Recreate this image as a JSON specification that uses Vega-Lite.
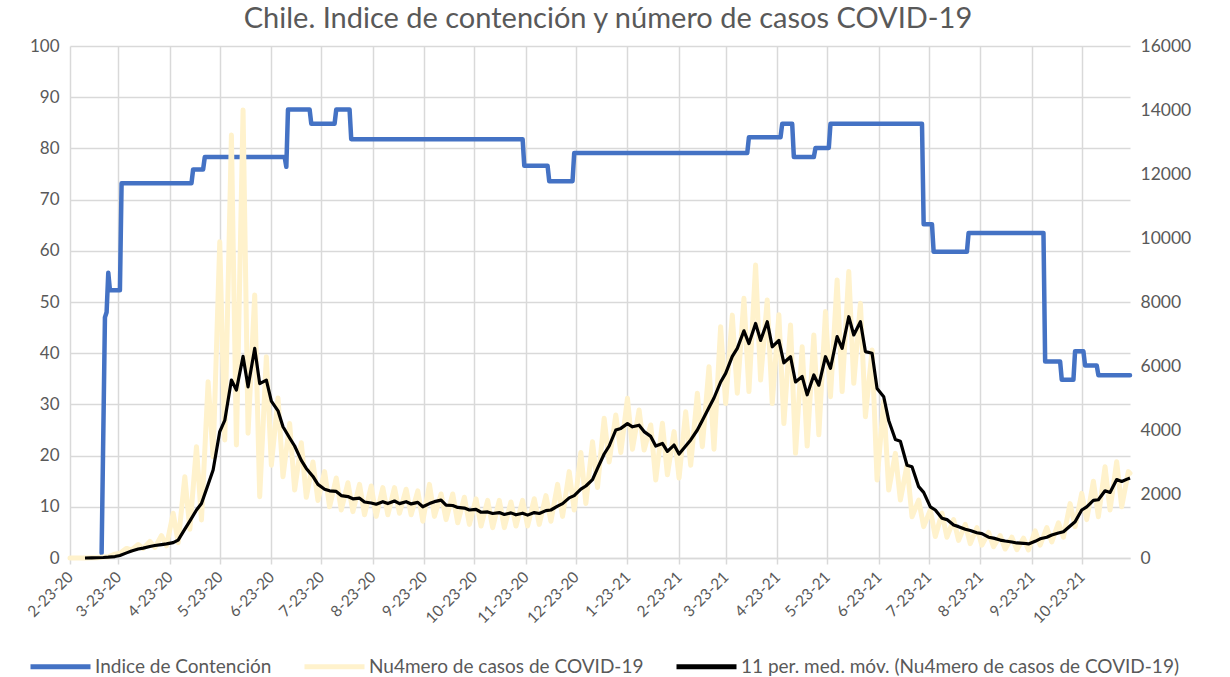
{
  "$schema": "https://vega.github.io/schema/vega-lite/v6.json",
  "width": 1060,
  "height": 512,
  "autosize": {"type": "none"},
  "padding": {"left": 70, "top": 46, "right": 100, "bottom": 119},
  "background": "white",
  "config": {"font": "Lato", "view": {"stroke": null}},
  "title": {"text": "Chile. Indice de contención y número de casos COVID-19", "fontSize": 29, "font": "Lato", "fontWeight": "normal", "color": "#595959", "anchor": "middle", "offset": 3, "dx": 8},
  "datasets": {
    "indice": [
      {"date": "2020-03-13", "indice": 1},
      {"date": "2020-03-15", "indice": 47},
      {"date": "2020-03-16", "indice": 48},
      {"date": "2020-03-17", "indice": 55.7},
      {"date": "2020-03-18", "indice": 52.3},
      {"date": "2020-03-24", "indice": 52.3},
      {"date": "2020-03-25", "indice": 73.2},
      {"date": "2020-05-06", "indice": 73.2},
      {"date": "2020-05-07", "indice": 75.9},
      {"date": "2020-05-13", "indice": 75.9},
      {"date": "2020-05-14", "indice": 78.3},
      {"date": "2020-07-01", "indice": 78.3},
      {"date": "2020-07-02", "indice": 76.4},
      {"date": "2020-07-03", "indice": 87.6},
      {"date": "2020-07-16", "indice": 87.6},
      {"date": "2020-07-17", "indice": 84.8},
      {"date": "2020-07-31", "indice": 84.8},
      {"date": "2020-08-01", "indice": 87.6},
      {"date": "2020-08-09", "indice": 87.6},
      {"date": "2020-08-10", "indice": 81.8},
      {"date": "2020-11-21", "indice": 81.8},
      {"date": "2020-11-22", "indice": 76.6},
      {"date": "2020-12-06", "indice": 76.6},
      {"date": "2020-12-07", "indice": 73.6},
      {"date": "2020-12-21", "indice": 73.6},
      {"date": "2020-12-22", "indice": 79.1},
      {"date": "2021-04-05", "indice": 79.1},
      {"date": "2021-04-06", "indice": 82.2},
      {"date": "2021-04-25", "indice": 82.2},
      {"date": "2021-04-26", "indice": 84.8},
      {"date": "2021-05-02", "indice": 84.8},
      {"date": "2021-05-03", "indice": 78.3},
      {"date": "2021-05-15", "indice": 78.3},
      {"date": "2021-05-16", "indice": 80.1},
      {"date": "2021-05-24", "indice": 80.1},
      {"date": "2021-05-25", "indice": 84.8},
      {"date": "2021-07-19", "indice": 84.8},
      {"date": "2021-07-20", "indice": 65.2},
      {"date": "2021-07-25", "indice": 65.2},
      {"date": "2021-07-26", "indice": 59.8},
      {"date": "2021-08-15", "indice": 59.8},
      {"date": "2021-08-16", "indice": 63.5},
      {"date": "2021-09-30", "indice": 63.5},
      {"date": "2021-10-01", "indice": 38.4},
      {"date": "2021-10-10", "indice": 38.4},
      {"date": "2021-10-11", "indice": 34.8},
      {"date": "2021-10-18", "indice": 34.8},
      {"date": "2021-10-19", "indice": 40.4},
      {"date": "2021-10-24", "indice": 40.4},
      {"date": "2021-10-25", "indice": 37.6},
      {"date": "2021-11-01", "indice": 37.6},
      {"date": "2021-11-02", "indice": 35.7},
      {"date": "2021-11-21", "indice": 35.7}
    ],
    "casos": [
      {"date": "2020-02-23", "casos": 0, "media": null},
      {"date": "2020-02-29", "casos": 0, "media": null},
      {"date": "2020-03-03", "casos": 1, "media": 0},
      {"date": "2020-03-07", "casos": 8, "media": 3},
      {"date": "2020-03-10", "casos": 5, "media": 8},
      {"date": "2020-03-14", "casos": 30, "media": 15},
      {"date": "2020-03-17", "casos": 40, "media": 25},
      {"date": "2020-03-21", "casos": 120, "media": 45},
      {"date": "2020-03-24", "casos": 150, "media": 80},
      {"date": "2020-03-28", "casos": 300, "media": 160},
      {"date": "2020-03-31", "casos": 250, "media": 220},
      {"date": "2020-04-04", "casos": 420, "media": 280},
      {"date": "2020-04-07", "casos": 300, "media": 310},
      {"date": "2020-04-11", "casos": 520, "media": 360},
      {"date": "2020-04-14", "casos": 330, "media": 390},
      {"date": "2020-04-18", "casos": 700, "media": 420},
      {"date": "2020-04-21", "casos": 380, "media": 440},
      {"date": "2020-04-25", "casos": 1400, "media": 480},
      {"date": "2020-04-28", "casos": 480, "media": 560},
      {"date": "2020-05-02", "casos": 2540, "media": 900},
      {"date": "2020-05-05", "casos": 900, "media": 1150},
      {"date": "2020-05-09", "casos": 3480, "media": 1500},
      {"date": "2020-05-12", "casos": 1190, "media": 1700},
      {"date": "2020-05-16", "casos": 5510, "media": 2300},
      {"date": "2020-05-19", "casos": 3165, "media": 2750},
      {"date": "2020-05-23", "casos": 9880, "media": 3950},
      {"date": "2020-05-26", "casos": 3690, "media": 4300},
      {"date": "2020-05-30", "casos": 13220, "media": 5560},
      {"date": "2020-06-02", "casos": 3530, "media": 5250},
      {"date": "2020-06-06", "casos": 14000, "media": 6300},
      {"date": "2020-06-09", "casos": 3900, "media": 5350},
      {"date": "2020-06-13", "casos": 8220, "media": 6550},
      {"date": "2020-06-16", "casos": 1916, "media": 5450},
      {"date": "2020-06-20", "casos": 6290, "media": 5560},
      {"date": "2020-06-23", "casos": 2900, "media": 4900},
      {"date": "2020-06-27", "casos": 5000, "media": 4600},
      {"date": "2020-06-30", "casos": 2540, "media": 4100},
      {"date": "2020-07-04", "casos": 4200, "media": 3750},
      {"date": "2020-07-07", "casos": 2125, "media": 3500},
      {"date": "2020-07-11", "casos": 3600, "media": 3050},
      {"date": "2020-07-14", "casos": 1900, "media": 2800},
      {"date": "2020-07-18", "casos": 3000, "media": 2550},
      {"date": "2020-07-21", "casos": 1800, "media": 2300},
      {"date": "2020-07-25", "casos": 2700, "media": 2150},
      {"date": "2020-07-28", "casos": 1600, "media": 2100},
      {"date": "2020-08-01", "casos": 2500, "media": 2080},
      {"date": "2020-08-04", "casos": 1500, "media": 1950},
      {"date": "2020-08-08", "casos": 2350, "media": 1920},
      {"date": "2020-08-11", "casos": 1450, "media": 1850},
      {"date": "2020-08-15", "casos": 2300, "media": 1870},
      {"date": "2020-08-18", "casos": 1350, "media": 1750},
      {"date": "2020-08-22", "casos": 2250, "media": 1720},
      {"date": "2020-08-25", "casos": 1300, "media": 1680},
      {"date": "2020-08-29", "casos": 2200, "media": 1760},
      {"date": "2020-09-01", "casos": 1350, "media": 1700},
      {"date": "2020-09-05", "casos": 2200, "media": 1780},
      {"date": "2020-09-08", "casos": 1400, "media": 1700},
      {"date": "2020-09-12", "casos": 2150, "media": 1760},
      {"date": "2020-09-15", "casos": 1350, "media": 1690},
      {"date": "2020-09-19", "casos": 2100, "media": 1740},
      {"date": "2020-09-22", "casos": 1150, "media": 1600},
      {"date": "2020-09-26", "casos": 2300, "media": 1700},
      {"date": "2020-09-29", "casos": 1300, "media": 1760},
      {"date": "2020-10-03", "casos": 2000, "media": 1810},
      {"date": "2020-10-06", "casos": 1200, "media": 1650},
      {"date": "2020-10-10", "casos": 2000, "media": 1640},
      {"date": "2020-10-13", "casos": 1100, "media": 1580},
      {"date": "2020-10-17", "casos": 1900, "media": 1560},
      {"date": "2020-10-20", "casos": 1050, "media": 1500},
      {"date": "2020-10-24", "casos": 1850, "media": 1520},
      {"date": "2020-10-27", "casos": 1000, "media": 1430},
      {"date": "2020-10-31", "casos": 1800, "media": 1440},
      {"date": "2020-11-03", "casos": 950, "media": 1390},
      {"date": "2020-11-07", "casos": 1800, "media": 1420},
      {"date": "2020-11-10", "casos": 950, "media": 1360},
      {"date": "2020-11-14", "casos": 1750, "media": 1410},
      {"date": "2020-11-17", "casos": 1000, "media": 1350},
      {"date": "2020-11-21", "casos": 1800, "media": 1400},
      {"date": "2020-11-24", "casos": 1000, "media": 1340},
      {"date": "2020-11-28", "casos": 1850, "media": 1420},
      {"date": "2020-12-01", "casos": 1050, "media": 1390},
      {"date": "2020-12-05", "casos": 1950, "media": 1480},
      {"date": "2020-12-08", "casos": 1150, "media": 1500},
      {"date": "2020-12-12", "casos": 2300, "media": 1620},
      {"date": "2020-12-15", "casos": 1300, "media": 1700},
      {"date": "2020-12-19", "casos": 2700, "media": 1880},
      {"date": "2020-12-22", "casos": 1500, "media": 1950},
      {"date": "2020-12-26", "casos": 3300, "media": 2150},
      {"date": "2020-12-29", "casos": 1700, "media": 2250},
      {"date": "2021-01-02", "casos": 3630, "media": 2450},
      {"date": "2021-01-05", "casos": 2200, "media": 2800},
      {"date": "2021-01-09", "casos": 4365, "media": 3250},
      {"date": "2021-01-12", "casos": 3000, "media": 3500},
      {"date": "2021-01-16", "casos": 4470, "media": 4000},
      {"date": "2021-01-19", "casos": 3300, "media": 4050},
      {"date": "2021-01-23", "casos": 4990, "media": 4200},
      {"date": "2021-01-26", "casos": 3400, "media": 4100},
      {"date": "2021-01-30", "casos": 4625, "media": 4150},
      {"date": "2021-02-02", "casos": 3375, "media": 3950},
      {"date": "2021-02-06", "casos": 4156, "media": 3800},
      {"date": "2021-02-09", "casos": 2437, "media": 3500},
      {"date": "2021-02-13", "casos": 4208, "media": 3580},
      {"date": "2021-02-16", "casos": 2600, "media": 3330},
      {"date": "2021-02-20", "casos": 3950, "media": 3530},
      {"date": "2021-02-23", "casos": 2500, "media": 3250},
      {"date": "2021-02-27", "casos": 4570, "media": 3500},
      {"date": "2021-03-02", "casos": 2900, "media": 3690},
      {"date": "2021-03-06", "casos": 5150, "media": 4000},
      {"date": "2021-03-09", "casos": 3480, "media": 4300},
      {"date": "2021-03-13", "casos": 5980, "media": 4700},
      {"date": "2021-03-16", "casos": 3400, "media": 5000},
      {"date": "2021-03-20", "casos": 7230, "media": 5500},
      {"date": "2021-03-23", "casos": 4830, "media": 5770},
      {"date": "2021-03-27", "casos": 7590, "media": 6300},
      {"date": "2021-03-30", "casos": 5150, "media": 6550},
      {"date": "2021-04-03", "casos": 8115, "media": 7100},
      {"date": "2021-04-06", "casos": 5200, "media": 6700},
      {"date": "2021-04-10", "casos": 9156, "media": 7330},
      {"date": "2021-04-13", "casos": 5560, "media": 6800},
      {"date": "2021-04-17", "casos": 8060, "media": 7385},
      {"date": "2021-04-20", "casos": 4830, "media": 6600},
      {"date": "2021-04-24", "casos": 7600, "media": 6800},
      {"date": "2021-04-27", "casos": 4200, "media": 6100},
      {"date": "2021-05-01", "casos": 7280, "media": 6290},
      {"date": "2021-05-04", "casos": 3270, "media": 5500},
      {"date": "2021-05-08", "casos": 6600, "media": 5670},
      {"date": "2021-05-11", "casos": 3500, "media": 5100},
      {"date": "2021-05-15", "casos": 6970, "media": 5720},
      {"date": "2021-05-18", "casos": 3850, "media": 5400},
      {"date": "2021-05-22", "casos": 7700, "media": 6290},
      {"date": "2021-05-25", "casos": 5040, "media": 5930},
      {"date": "2021-05-29", "casos": 8690, "media": 6920},
      {"date": "2021-06-01", "casos": 5200, "media": 6550},
      {"date": "2021-06-05", "casos": 8950, "media": 7540},
      {"date": "2021-06-08", "casos": 5460, "media": 6970},
      {"date": "2021-06-12", "casos": 7960, "media": 7385},
      {"date": "2021-06-15", "casos": 4415, "media": 6450},
      {"date": "2021-06-19", "casos": 6500, "media": 6400},
      {"date": "2021-06-22", "casos": 2440, "media": 5300},
      {"date": "2021-06-26", "casos": 4900, "media": 5040},
      {"date": "2021-06-29", "casos": 2125, "media": 4300},
      {"date": "2021-07-03", "casos": 3270, "media": 3700},
      {"date": "2021-07-06", "casos": 1810, "media": 3650},
      {"date": "2021-07-10", "casos": 2900, "media": 2900},
      {"date": "2021-07-13", "casos": 1290, "media": 2850},
      {"date": "2021-07-17", "casos": 1810, "media": 2230},
      {"date": "2021-07-20", "casos": 980, "media": 2050},
      {"date": "2021-07-24", "casos": 1500, "media": 1600},
      {"date": "2021-07-27", "casos": 670, "media": 1500},
      {"date": "2021-07-31", "casos": 1400, "media": 1240},
      {"date": "2021-08-03", "casos": 650, "media": 1200},
      {"date": "2021-08-07", "casos": 1200, "media": 1030},
      {"date": "2021-08-10", "casos": 550, "media": 980},
      {"date": "2021-08-14", "casos": 1050, "media": 900},
      {"date": "2021-08-17", "casos": 450, "media": 860},
      {"date": "2021-08-21", "casos": 950, "media": 790},
      {"date": "2021-08-24", "casos": 400, "media": 760},
      {"date": "2021-08-28", "casos": 800, "media": 650},
      {"date": "2021-08-31", "casos": 350, "media": 620},
      {"date": "2021-09-04", "casos": 700, "media": 560},
      {"date": "2021-09-07", "casos": 280, "media": 530},
      {"date": "2021-09-11", "casos": 650, "media": 500},
      {"date": "2021-09-14", "casos": 260, "media": 470},
      {"date": "2021-09-18", "casos": 620, "media": 460},
      {"date": "2021-09-21", "casos": 250, "media": 440},
      {"date": "2021-09-25", "casos": 850, "media": 520},
      {"date": "2021-09-28", "casos": 400, "media": 600},
      {"date": "2021-10-02", "casos": 950, "media": 650},
      {"date": "2021-10-05", "casos": 500, "media": 720},
      {"date": "2021-10-09", "casos": 1100, "media": 780},
      {"date": "2021-10-12", "casos": 650, "media": 820},
      {"date": "2021-10-16", "casos": 1700, "media": 1000},
      {"date": "2021-10-19", "casos": 980, "media": 1130},
      {"date": "2021-10-23", "casos": 2020, "media": 1500},
      {"date": "2021-10-26", "casos": 1200, "media": 1600},
      {"date": "2021-10-30", "casos": 2400, "media": 1800},
      {"date": "2021-11-02", "casos": 1290, "media": 1820},
      {"date": "2021-11-06", "casos": 2850, "media": 2100},
      {"date": "2021-11-09", "casos": 1500, "media": 2050},
      {"date": "2021-11-13", "casos": 3010, "media": 2450},
      {"date": "2021-11-16", "casos": 1600, "media": 2390},
      {"date": "2021-11-20", "casos": 2700, "media": 2480},
      {"date": "2021-11-21", "casos": 2650, "media": 2500}
    ]
  },
  "layer": [
    {
      "data": {"name": "indice"},
      "mark": {"type": "line", "strokeWidth": 4.5, "strokeJoin": "round", "strokeCap": "round"},
      "encoding": {
        "x": {"field": "date", "type": "temporal",
          "scale": {"type": "utc", "domain": [{"year": 2020, "month": 2, "date": 23, "utc": true}, {"year": 2021, "month": 11, "date": 21, "utc": true}]},
          "axis": {"title": null, "labelExpr": "utcFormat(datum.value, '%-m-%-d-%y')", "labelAngle": -45, "labelAlign": "right", "labelBaseline": "middle", "labelPadding": 10, "labelFontSize": 15.5, "labelColor": "#595959", "labelOverlap": false, "labelFlush": false, "tickSize": 6, "tickColor": "#D9D9D9", "tickWidth": 1.5, "domainColor": "#D9D9D9", "domainWidth": 1.5, "grid": true, "gridColor": "#D9D9D9", "gridWidth": 1.5,
            "values": [{"year": 2020, "month": 2, "date": 23, "utc": true}, {"year": 2020, "month": 3, "date": 23, "utc": true}, {"year": 2020, "month": 4, "date": 23, "utc": true}, {"year": 2020, "month": 5, "date": 23, "utc": true}, {"year": 2020, "month": 6, "date": 23, "utc": true}, {"year": 2020, "month": 7, "date": 23, "utc": true}, {"year": 2020, "month": 8, "date": 23, "utc": true}, {"year": 2020, "month": 9, "date": 23, "utc": true}, {"year": 2020, "month": 10, "date": 23, "utc": true}, {"year": 2020, "month": 11, "date": 23, "utc": true}, {"year": 2020, "month": 12, "date": 23, "utc": true}, {"year": 2021, "month": 1, "date": 23, "utc": true}, {"year": 2021, "month": 2, "date": 23, "utc": true}, {"year": 2021, "month": 3, "date": 23, "utc": true}, {"year": 2021, "month": 4, "date": 23, "utc": true}, {"year": 2021, "month": 5, "date": 23, "utc": true}, {"year": 2021, "month": 6, "date": 23, "utc": true}, {"year": 2021, "month": 7, "date": 23, "utc": true}, {"year": 2021, "month": 8, "date": 23, "utc": true}, {"year": 2021, "month": 9, "date": 23, "utc": true}, {"year": 2021, "month": 10, "date": 23, "utc": true}]}},
        "y": {"field": "indice", "type": "quantitative", "scale": {"domain": [0, 100], "nice": false},
          "axis": {"title": null, "orient": "left", "values": [0, 10, 20, 30, 40, 50, 60, 70, 80, 90, 100], "domain": false, "ticks": false, "labelPadding": 11, "labelFontSize": 17, "labelColor": "#595959", "grid": true, "gridColor": "#D9D9D9", "gridWidth": 1.5}},
        "color": {"datum": "Indice de Contención", "type": "nominal",
          "scale": {"domain": ["Indice de Contención", "Nu4mero de casos de COVID-19", "11 per. med. móv. (Nu4mero de casos de COVID-19)"], "range": ["#4472C4", "#FFF2CC", "#000000"]},
          "legend": {"title": null, "orient": "none", "legendX": -42, "legendY": 588, "direction": "horizontal", "symbolType": "stroke", "symbolSize": 3600, "symbolStrokeWidth": 5, "labelFontSize": 19, "labelColor": "#595959", "labelFont": "Lato", "labelLimit": 0, "labelOffset": 2, "columnPadding": 22}}
      }
    },
    {
      "data": {"name": "casos"},
      "encoding": {
        "x": {"field": "date", "type": "temporal",
          "scale": {"type": "utc", "domain": [{"year": 2020, "month": 2, "date": 23, "utc": true}, {"year": 2021, "month": 11, "date": 21, "utc": true}]},
          "axis": {"title": null, "labelExpr": "utcFormat(datum.value, '%-m-%-d-%y')", "labelAngle": -45, "labelAlign": "right", "labelBaseline": "middle", "labelPadding": 10, "labelFontSize": 15.5, "labelColor": "#595959", "labelOverlap": false, "labelFlush": false, "tickSize": 6, "tickColor": "#D9D9D9", "tickWidth": 1.5, "domainColor": "#D9D9D9", "domainWidth": 1.5, "grid": true, "gridColor": "#D9D9D9", "gridWidth": 1.5,
            "values": [{"year": 2020, "month": 2, "date": 23, "utc": true}, {"year": 2020, "month": 3, "date": 23, "utc": true}, {"year": 2020, "month": 4, "date": 23, "utc": true}, {"year": 2020, "month": 5, "date": 23, "utc": true}, {"year": 2020, "month": 6, "date": 23, "utc": true}, {"year": 2020, "month": 7, "date": 23, "utc": true}, {"year": 2020, "month": 8, "date": 23, "utc": true}, {"year": 2020, "month": 9, "date": 23, "utc": true}, {"year": 2020, "month": 10, "date": 23, "utc": true}, {"year": 2020, "month": 11, "date": 23, "utc": true}, {"year": 2020, "month": 12, "date": 23, "utc": true}, {"year": 2021, "month": 1, "date": 23, "utc": true}, {"year": 2021, "month": 2, "date": 23, "utc": true}, {"year": 2021, "month": 3, "date": 23, "utc": true}, {"year": 2021, "month": 4, "date": 23, "utc": true}, {"year": 2021, "month": 5, "date": 23, "utc": true}, {"year": 2021, "month": 6, "date": 23, "utc": true}, {"year": 2021, "month": 7, "date": 23, "utc": true}, {"year": 2021, "month": 8, "date": 23, "utc": true}, {"year": 2021, "month": 9, "date": 23, "utc": true}, {"year": 2021, "month": 10, "date": 23, "utc": true}]}}
      },
      "layer": [
        {
          "mark": {"type": "line", "strokeWidth": 5, "strokeJoin": "round", "strokeCap": "round"},
          "encoding": {
            "y": {"field": "casos", "type": "quantitative", "scale": {"domain": [0, 16000], "nice": false},
              "axis": {"title": null, "orient": "right", "values": [0, 2000, 4000, 6000, 8000, 10000, 12000, 14000, 16000], "format": "d", "domain": false, "ticks": false, "grid": false, "labelPadding": 10, "labelFontSize": 17.5, "labelColor": "#595959"}},
            "color": {"datum": "Nu4mero de casos de COVID-19", "type": "nominal"}
          }
        },
        {
          "mark": {"type": "line", "strokeWidth": 3.2, "strokeJoin": "round"},
          "encoding": {
            "y": {"field": "media", "type": "quantitative"},
            "color": {"datum": "11 per. med. móv. (Nu4mero de casos de COVID-19)", "type": "nominal"}
          }
        }
      ]
    }
  ],
  "resolve": {"scale": {"y": "independent"}}
}
